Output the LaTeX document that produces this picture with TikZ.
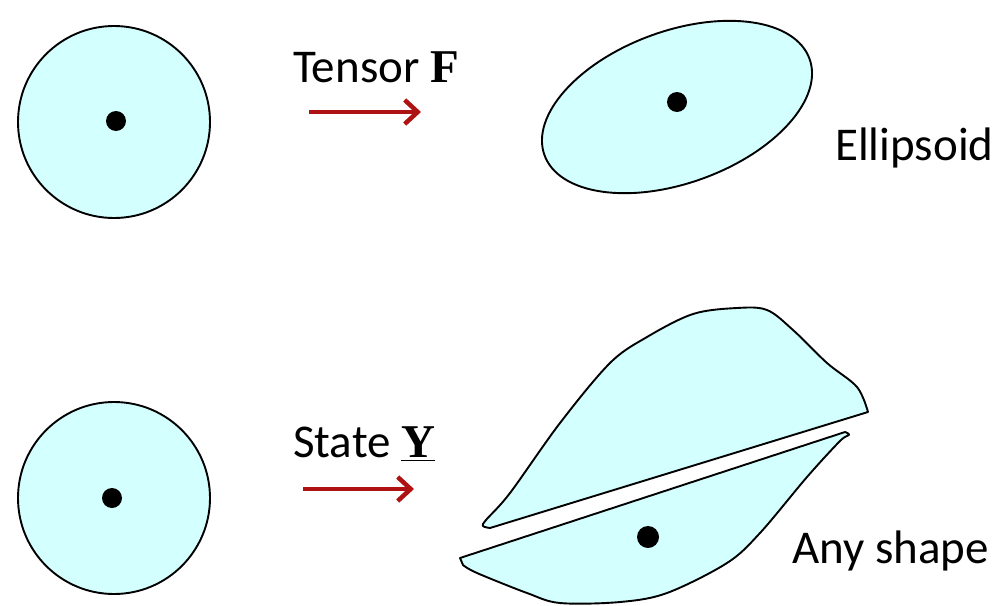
\documentclass[tikz,border=0pt]{standalone}
\usepackage{amsmath}
\usepackage{fontspec}
\setmainfont{Carlito}
\newfontfamily\symserif{Liberation Serif}
\usepackage{tikz}
\usetikzlibrary{arrows.meta}
\definecolor{blobfill}{RGB}{212,255,255}
\definecolor{mapred}{RGB}{175,18,18}

\begin{document}
\begin{tikzpicture}[x=1pt,y=-1pt,
    blob/.style={draw=black, line width=1.9pt, fill=blobfill, line join=round},
    maparrow/.style={draw=mapred, line width=4.5pt, -{Straight Barb[length=13pt,width=24pt]}},
    lbl/.style={font=\fontsize{47}{56}\selectfont, inner sep=0pt}]
    \useasboundingbox (0,0) rectangle (998,605);

    % reference circles
    \draw[blob] (114,122) circle (96);
    \fill (116,121) circle (10);
    \draw[blob] (114,498) circle (96);
    \fill (112,498) circle (10);

    % linear map -> ellipsoid
    \coordinate (f0) at (309,112);
    \coordinate (f1) at (421,112);
    \draw[maparrow] (f0) -- (f1);
    \node[lbl, anchor=base west] (tensor) at (293,82) {Tensor {\symserif\bfseries F}};
    \draw[blob, rotate around={20:(677,107)}] (677,107) ellipse [x radius=141, y radius=76];
    \fill (677,102) circle (10);
    \node[lbl, anchor=base west] (ellipsoid) at (835,160) {Ellipsoid};

    % general state -> any shape
    \coordinate (y0) at (303,489);
    \coordinate (y1) at (414,489);
    \draw[maparrow] (y0) -- (y1);
    \node[lbl, anchor=base west] (state) at (293,457) {State \underline{\symserif\bfseries Y}};
    \draw[blob] plot[smooth, tension=0.55] coordinates {(868,412) (857,387) (827,363) (793,330)
        (767,310) (737,308) (693,314) (647,337) (610,363) (560,423) (510,493) (486,520) (483,526) (490,528)} -- cycle;
    \draw[blob] (460,558) -- plot[smooth, tension=0.55] coordinates {(845,432) (849,435) (840,441)
        (807,477) (760,533) (727,563) (667,593) (620,602) (560,603) (527,593) (477,573) (463,565)} -- cycle;
    \fill (648,537) circle (11);
    \node[lbl, anchor=base west] (anyshape) at (792,563) {Any shape};
\end{tikzpicture}
\end{document}
